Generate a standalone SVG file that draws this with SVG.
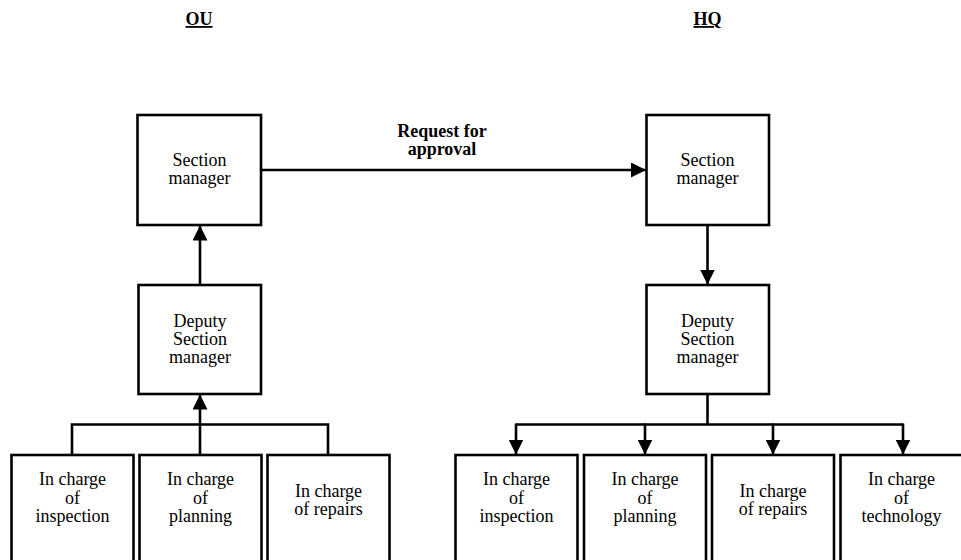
<svg xmlns="http://www.w3.org/2000/svg" width="961" height="560" viewBox="0 0 961 560">
  <style>
    .box { fill: #ffffff; stroke: #000000; stroke-width: 2.6; }
    .line { fill: none; stroke: #000000; stroke-width: 2.6; }
    .lbl { font-family: "Liberation Serif", "Times New Roman", serif; font-size: 18px; fill: #000000; text-anchor: middle; }
    .hdr { font-family: "Liberation Serif", "Times New Roman", serif; font-size: 18px; font-weight: bold; fill: #000000; text-anchor: middle; text-decoration: underline; }
    .edge { font-family: "Liberation Serif", "Times New Roman", serif; font-size: 18px; font-weight: bold; fill: #000000; text-anchor: middle; }
  </style>
  <defs>
    <marker id="arrow" viewBox="0 0 15 15" refX="15" refY="7.5" markerWidth="15" markerHeight="15" markerUnits="userSpaceOnUse" orient="auto">
      <path d="M0,0 L15,7.5 L0,15 Z" fill="#000000"/>
    </marker>
  </defs>
  <rect width="961" height="560" fill="#ffffff"/>

  <!-- column headings -->
  <text class="hdr" x="199" y="25">OU</text>
  <text class="hdr" x="707.5" y="25">HQ</text>

  <!-- connectors -->
  <g id="connectors">
    <!-- request for approval -->
    <line class="line" x1="261" y1="170" x2="646" y2="170" marker-end="url(#arrow)"/>
    <text class="edge" x="442" y="137">Request for</text>
    <text class="edge" x="442" y="155">approval</text>
    <!-- OU: deputy up to section manager -->
    <line class="line" x1="200" y1="285" x2="200" y2="225.5" marker-end="url(#arrow)"/>
    <!-- OU: staff bus up to deputy -->
    <path class="line" d="M72,455 V424.5 H328 V455"/>
    <line class="line" x1="200" y1="455" x2="200" y2="394.5" marker-end="url(#arrow)"/>
    <!-- HQ: section manager down to deputy -->
    <line class="line" x1="707.5" y1="225" x2="707.5" y2="284.5" marker-end="url(#arrow)"/>
    <!-- HQ: deputy down to staff -->
    <line class="line" x1="707.5" y1="394" x2="707.5" y2="424.5"/>
    <line class="line" x1="516" y1="424.5" x2="903" y2="424.5"/>
    <line class="line" x1="516" y1="423.5" x2="516" y2="454.5" marker-end="url(#arrow)"/>
    <line class="line" x1="645" y1="423.5" x2="645" y2="454.5" marker-end="url(#arrow)"/>
    <line class="line" x1="773" y1="423.5" x2="773" y2="454.5" marker-end="url(#arrow)"/>
    <line class="line" x1="903" y1="423.5" x2="903" y2="454.5" marker-end="url(#arrow)"/>
  </g>

  <!-- OU nodes -->
  <g id="ou-section-manager">
    <rect class="box" x="137.5" y="115" width="123.5" height="110"/>
    <text class="lbl" x="199.5" y="166">Section</text>
    <text class="lbl" x="199.5" y="184">manager</text>
  </g>
  <g id="ou-deputy">
    <rect class="box" x="138.5" y="285" width="122.5" height="109"/>
    <text class="lbl" x="200" y="327">Deputy</text>
    <text class="lbl" x="200" y="345">Section</text>
    <text class="lbl" x="200" y="363">manager</text>
  </g>
  <g id="ou-inspection">
    <rect class="box" x="11.5" y="455" width="122" height="115"/>
    <text class="lbl" x="72.5" y="485">In charge</text>
    <text class="lbl" x="72.5" y="503.5">of</text>
    <text class="lbl" x="72.5" y="522">inspection</text>
  </g>
  <g id="ou-planning">
    <rect class="box" x="139.5" y="455" width="122" height="115"/>
    <text class="lbl" x="200.5" y="485">In charge</text>
    <text class="lbl" x="200.5" y="503.5">of</text>
    <text class="lbl" x="200.5" y="522">planning</text>
  </g>
  <g id="ou-repairs">
    <rect class="box" x="267.5" y="455" width="122" height="115"/>
    <text class="lbl" x="328.5" y="496.5">In charge</text>
    <text class="lbl" x="328.5" y="515">of repairs</text>
  </g>

  <!-- HQ nodes -->
  <g id="hq-section-manager">
    <rect class="box" x="646.5" y="115" width="122.5" height="110"/>
    <text class="lbl" x="707.5" y="166">Section</text>
    <text class="lbl" x="707.5" y="184">manager</text>
  </g>
  <g id="hq-deputy">
    <rect class="box" x="646.5" y="285" width="122.5" height="109"/>
    <text class="lbl" x="707.5" y="327">Deputy</text>
    <text class="lbl" x="707.5" y="345">Section</text>
    <text class="lbl" x="707.5" y="363">manager</text>
  </g>
  <g id="hq-inspection">
    <rect class="box" x="455.5" y="455" width="122" height="115"/>
    <text class="lbl" x="516.5" y="485">In charge</text>
    <text class="lbl" x="516.5" y="503.5">of</text>
    <text class="lbl" x="516.5" y="522">inspection</text>
  </g>
  <g id="hq-planning">
    <rect class="box" x="584" y="455" width="122" height="115"/>
    <text class="lbl" x="645" y="485">In charge</text>
    <text class="lbl" x="645" y="503.5">of</text>
    <text class="lbl" x="645" y="522">planning</text>
  </g>
  <g id="hq-repairs">
    <rect class="box" x="712" y="455" width="122" height="115"/>
    <text class="lbl" x="773" y="496.5">In charge</text>
    <text class="lbl" x="773" y="515">of repairs</text>
  </g>
  <g id="hq-technology">
    <rect class="box" x="840.5" y="455" width="122" height="115"/>
    <text class="lbl" x="901.5" y="485">In charge</text>
    <text class="lbl" x="901.5" y="503.5">of</text>
    <text class="lbl" x="901.5" y="522">technology</text>
  </g>
</svg>
